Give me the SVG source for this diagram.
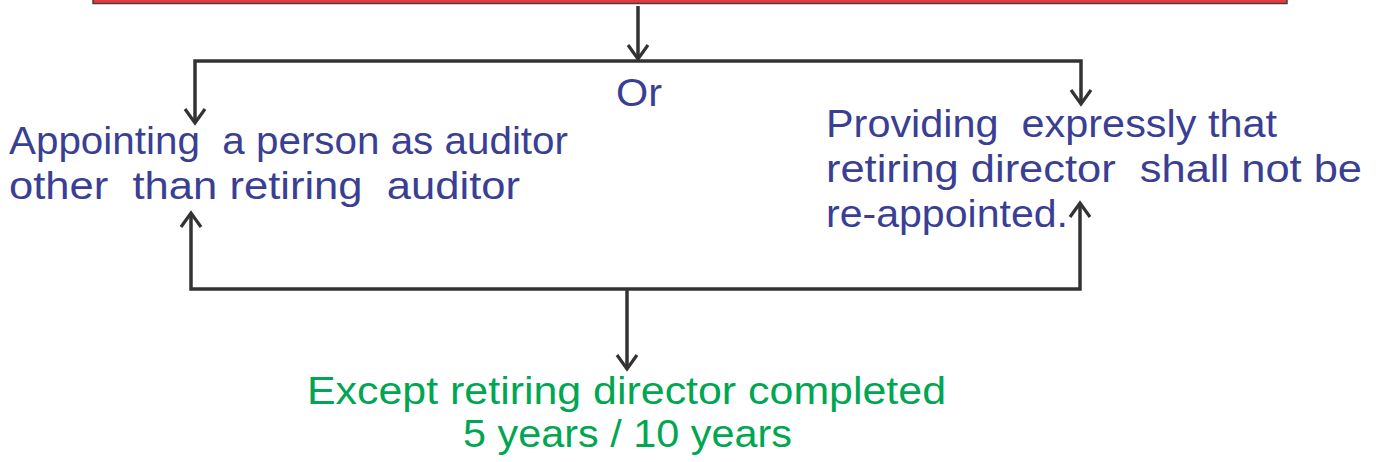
<svg xmlns="http://www.w3.org/2000/svg" width="1379" height="462" viewBox="0 0 1379 462">
<defs>
<style>
.ln{fill:none;stroke:#333333;stroke-width:3.5;stroke-linejoin:miter}
.blue{fill:#3a3f94;font-family:"Liberation Sans",Arial,sans-serif;font-size:38px}
.green{fill:#00a651;font-family:"Liberation Sans",Arial,sans-serif;font-size:38px}
</style>
<marker id="ah" markerUnits="userSpaceOnUse" markerWidth="30" markerHeight="30" refX="15" refY="15" orient="auto-start-reverse" viewBox="0 0 30 30">
<path d="M1,5 L15,15 L1,25" fill="none" stroke="#333333" stroke-width="3.2"/>
</marker>
</defs>
<rect width="1379" height="462" fill="#ffffff"/>
<g id="top-box">
<rect x="93" y="-20" width="1194" height="23.5" fill="#e8383d" stroke="#404040" stroke-width="1.5"/>
</g>
<g id="connectors">
<path class="ln" d="M638,6 L638,59" marker-end="url(#ah)"/>
<path class="ln" d="M195,123 L195,61 L1081,61 L1081,104" marker-start="url(#ah)" marker-end="url(#ah)"/>
<path class="ln" d="M191,213 L191,289 L1080,289 L1080,203" marker-start="url(#ah)" marker-end="url(#ah)"/>
<path class="ln" d="M627,289 L627,369" marker-end="url(#ah)"/>
</g>
<g id="or-label">
<text class="blue" x="616" y="106" textLength="46" lengthAdjust="spacingAndGlyphs">Or</text>
</g>
<g id="node-left">
<text class="blue" x="9" y="154" textLength="559" lengthAdjust="spacingAndGlyphs" xml:space="preserve">Appointing  a person as auditor</text>
<text class="blue" x="9" y="199" textLength="511" lengthAdjust="spacingAndGlyphs" xml:space="preserve">other  than retiring  auditor</text>
</g>
<g id="node-right">
<text class="blue" x="826" y="137" textLength="451" lengthAdjust="spacingAndGlyphs" xml:space="preserve">Providing  expressly that</text>
<text class="blue" x="826" y="182" textLength="536" lengthAdjust="spacingAndGlyphs" xml:space="preserve">retiring director  shall not be</text>
<text class="blue" x="826" y="227" textLength="242" lengthAdjust="spacingAndGlyphs">re-appointed.</text>
</g>
<g id="node-bottom">
<text class="green" x="307" y="404" textLength="639" lengthAdjust="spacingAndGlyphs">Except retiring director completed</text>
<text class="green" x="463" y="447" textLength="329" lengthAdjust="spacingAndGlyphs">5 years / 10 years</text>
</g>
</svg>
